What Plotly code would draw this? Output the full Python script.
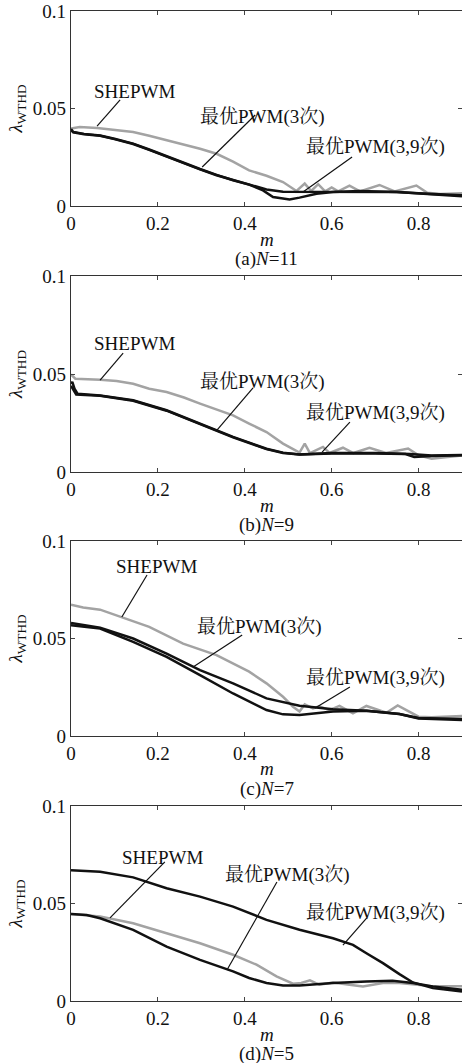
import plotly.graph_objects as go
from plotly.subplots import make_subplots

# ---------------- data ----------------
# panel (a) N=11
a_she_m = [0, 0.02, 0.06, 0.10, 0.143, 0.18, 0.22, 0.26, 0.297, 0.335, 0.373, 0.41, 0.45, 0.488, 0.519, 0.538, 0.553, 0.569, 0.585, 0.60, 0.615, 0.641, 0.665, 0.71, 0.745, 0.795, 0.82, 0.85, 0.9]
a_she_y = [0.0397, 0.0405, 0.040, 0.039, 0.038, 0.036, 0.0337, 0.0316, 0.0294, 0.0268, 0.0228, 0.0183, 0.0155, 0.0123, 0.0077, 0.0115, 0.0077, 0.0112, 0.0075, 0.0095, 0.0075, 0.0105, 0.0075, 0.0108, 0.0075, 0.0105, 0.0068, 0.0062, 0.0065]
a_3_m = [0, 0.005, 0.03, 0.067, 0.10, 0.143, 0.18, 0.22, 0.26, 0.297, 0.335, 0.373, 0.41, 0.442, 0.465, 0.503, 0.526, 0.565, 0.603, 0.665, 0.75, 0.82, 0.9]
a_3_y = [0.0395, 0.038, 0.037, 0.0362, 0.0345, 0.032, 0.029, 0.0255, 0.0222, 0.019, 0.016, 0.0132, 0.011, 0.008, 0.0046, 0.0034, 0.0043, 0.0063, 0.0072, 0.0077, 0.0072, 0.0062, 0.005]
a_39_m = [0, 0.005, 0.03, 0.067, 0.10, 0.143, 0.18, 0.22, 0.26, 0.297, 0.335, 0.373, 0.41, 0.45, 0.488, 0.55, 0.65, 0.75, 0.82, 0.9]
a_39_y = [0.039, 0.0378, 0.0368, 0.036, 0.0343, 0.0318, 0.0288, 0.0253, 0.022, 0.0188, 0.0158, 0.0133, 0.0112, 0.0085, 0.0073, 0.0072, 0.0072, 0.0072, 0.0063, 0.0055]

# panel (b) N=9
b_she_m = [0, 0.01, 0.067, 0.105, 0.143, 0.18, 0.22, 0.26, 0.297, 0.335, 0.373, 0.41, 0.45, 0.488, 0.519, 0.526, 0.538, 0.55, 0.58, 0.595, 0.626, 0.65, 0.687, 0.725, 0.776, 0.80, 0.83, 0.9]
b_she_y = [0.0498, 0.0476, 0.0471, 0.0464, 0.045, 0.0425, 0.0408, 0.038, 0.0349, 0.032, 0.0289, 0.0247, 0.0204, 0.0145, 0.0107, 0.0099, 0.0145, 0.0097, 0.0128, 0.0097, 0.0124, 0.0097, 0.0124, 0.0097, 0.012, 0.0085, 0.0068, 0.0085]
b_3_m = [0, 0.003, 0.008, 0.015, 0.067, 0.143, 0.22, 0.297, 0.373, 0.45, 0.488, 0.526, 0.60, 0.70, 0.78, 0.83, 0.9]
b_3_y = [0.045, 0.046, 0.0425, 0.040, 0.0391, 0.0366, 0.0315, 0.0247, 0.0179, 0.0119, 0.0099, 0.009, 0.0097, 0.0097, 0.0092, 0.0085, 0.0087]
b_39_m = [0, 0.005, 0.012, 0.067, 0.143, 0.22, 0.297, 0.373, 0.45, 0.488, 0.526, 0.60, 0.70, 0.77, 0.79, 0.83, 0.9]
b_39_y = [0.044, 0.042, 0.0395, 0.0389, 0.0364, 0.0313, 0.0245, 0.0177, 0.0117, 0.0097, 0.0089, 0.0095, 0.0095, 0.0092, 0.0077, 0.0082, 0.0086]

# panel (c) N=7
c_she_m = [0, 0.028, 0.067, 0.116, 0.18, 0.258, 0.335, 0.41, 0.45, 0.488, 0.511, 0.526, 0.538, 0.557, 0.572, 0.595, 0.618, 0.649, 0.68, 0.726, 0.752, 0.80, 0.83, 0.9]
c_she_y = [0.0674, 0.0659, 0.0648, 0.0611, 0.056, 0.0474, 0.0415, 0.033, 0.027, 0.0201, 0.015, 0.0125, 0.0162, 0.0142, 0.0152, 0.0133, 0.0154, 0.0116, 0.0154, 0.0119, 0.0157, 0.0099, 0.0096, 0.0102]
c_3_m = [0, 0.067, 0.143, 0.22, 0.297, 0.373, 0.45, 0.488, 0.526, 0.565, 0.603, 0.68, 0.756, 0.80, 0.9]
c_3_y = [0.0568, 0.0551, 0.0483, 0.0406, 0.0312, 0.0218, 0.0133, 0.0111, 0.0108, 0.0116, 0.0125, 0.013, 0.0113, 0.009, 0.0082]
c_39_m = [0, 0.067, 0.143, 0.22, 0.297, 0.373, 0.45, 0.488, 0.526, 0.603, 0.68, 0.756, 0.80, 0.9]
c_39_y = [0.058, 0.0556, 0.050, 0.0423, 0.0338, 0.027, 0.0193, 0.0172, 0.0155, 0.0137, 0.013, 0.0113, 0.0092, 0.0087]

# panel (d) N=5
d_she_m = [0, 0.067, 0.143, 0.22, 0.297, 0.373, 0.427, 0.473, 0.511, 0.53, 0.55, 0.572, 0.603, 0.641, 0.672, 0.718, 0.756, 0.833, 0.9]
d_she_y = [0.0446, 0.0433, 0.0399, 0.0348, 0.0296, 0.0237, 0.0186, 0.0126, 0.0089, 0.0092, 0.0106, 0.0083, 0.0095, 0.0083, 0.0075, 0.0092, 0.0092, 0.0075, 0.0075]
d_3_m = [0, 0.036, 0.067, 0.143, 0.22, 0.297, 0.373, 0.41, 0.45, 0.488, 0.526, 0.603, 0.68, 0.74, 0.787, 0.833, 0.9]
d_3_y = [0.0446, 0.0441, 0.0424, 0.0365, 0.0279, 0.0211, 0.0152, 0.0118, 0.0092, 0.008, 0.008, 0.0092, 0.01, 0.0104, 0.0092, 0.0075, 0.0058]
d_39_m = [0, 0.067, 0.143, 0.22, 0.297, 0.373, 0.45, 0.526, 0.603, 0.649, 0.68, 0.718, 0.756, 0.787, 0.833, 0.9]
d_39_y = [0.0671, 0.0663, 0.0634, 0.0578, 0.0535, 0.0484, 0.0416, 0.0365, 0.0322, 0.0288, 0.0245, 0.0194, 0.0138, 0.0095, 0.0066, 0.0049]

series_names = ["SHEPWM", "最优PWM(3次)", "最优PWM(3,9次)"]
captions = ["(a)<i>N</i>=11", "(b)<i>N</i>=9", "(c)<i>N</i>=7", "(d)<i>N</i>=5"]
x_ticks = [0, 0.2, 0.4, 0.6, 0.8]
x_ticklabels = ["0", "0.2", "0.4", "0.6", "0.8"]
y_ticks = [0, 0.05, 0.1]
y_ticklabels = ["0", "0.05", "0.1"]

panels = [
    [(a_she_m, a_she_y), (a_3_m, a_3_y), (a_39_m, a_39_y)],
    [(b_she_m, b_she_y), (b_3_m, b_3_y), (b_39_m, b_39_y)],
    [(c_she_m, c_she_y), (c_3_m, c_3_y), (c_39_m, c_39_y)],
    [(d_she_m, d_she_y), (d_3_m, d_3_y), (d_39_m, d_39_y)],
]

# label layout: per panel, per series: text center (x,y), leader from (x0,y0) to (x1,y1)
label_pos = [
    [(0.147, 0.0585, 0.113, 0.0544, 0.060, 0.041),
     (0.44, 0.0456, 0.424, 0.0467, 0.302, 0.020),
     (0.70, 0.0303, 0.647, 0.0251, 0.534, 0.0072)],
    [(0.147, 0.0658, 0.12, 0.0607, 0.067, 0.0469),
     (0.44, 0.0459, 0.419, 0.0429, 0.336, 0.0214),
     (0.70, 0.0301, 0.642, 0.0255, 0.578, 0.0102)],
    [(0.197, 0.0867, 0.175, 0.0826, 0.117, 0.061),
     (0.433, 0.0559, 0.394, 0.0518, 0.281, 0.0354),
     (0.70, 0.0297, 0.642, 0.0251, 0.562, 0.0144)],
    [(0.211, 0.0738, 0.216, 0.0713, 0.0898, 0.0426),
     (0.498, 0.0646, 0.474, 0.061, 0.359, 0.0159),
     (0.70, 0.0451, 0.681, 0.0426, 0.626, 0.0287)],
]

colors = ["#a3a3a3", "#111111", "#111111"]
domains = [[0.8030, 1.0], [0.5343, 0.7323], [0.2677, 0.4646], [0.0, 0.1970]]

FONT = "'Liberation Serif', 'Noto Serif CJK SC', 'Noto Sans CJK SC', serif"

fig = make_subplots(rows=4, cols=1)
for r, panel in enumerate(panels, start=1):
    for k, (mm, yy) in enumerate(panel):
        fig.add_trace(go.Scatter(x=mm, y=yy, mode="lines", name=series_names[k],
                                 line=dict(color=colors[k], width=2.5),
                                 showlegend=False), row=r, col=1)
    xa = "x" if r == 1 else f"x{r}"
    ya = "y" if r == 1 else f"y{r}"
    for k, (tx, ty, x0, y0, x1, y1) in enumerate(label_pos[r - 1]):
        fig.add_annotation(x=tx, y=ty, xref=xa, yref=ya, text=series_names[k], showarrow=False,
                           font=dict(family=FONT, size=19, color="#111"))
        fig.add_shape(type="line", x0=x0, y0=y0, x1=x1, y1=y1, xref=xa, yref=ya,
                      line=dict(color="#111", width=1.2))
    fig.add_annotation(x=0.5, y=0, xref=f"{xa} domain", yref=f"{ya} domain", yshift=-33,
                       text="<i>m</i>", showarrow=False, yanchor="middle",
                       font=dict(family=FONT, size=19, color="#111"))
    fig.add_annotation(x=0.5, y=0, xref=f"{xa} domain", yref=f"{ya} domain", yshift=-53,
                       text=captions[r - 1], showarrow=False, yanchor="middle",
                       font=dict(family=FONT, size=19, color="#111"))
    fig.add_annotation(x=0, y=0.5, xref="paper", yref=f"{ya} domain", xshift=-54,
                       text="<i>λ</i><sub>WTHD</sub>", showarrow=False, textangle=-90,
                       xanchor="center", yanchor="middle",
                       font=dict(family=FONT, size=19, color="#111"))
    fig.update_xaxes(row=r, col=1, range=[0, 0.9], tickvals=x_ticks, ticktext=x_ticklabels,
                     ticks="inside", ticklen=4, mirror="ticks", showline=True,
                     linecolor="#333", linewidth=1.3, showgrid=False, zeroline=False,
                     tickfont=dict(family=FONT, size=19, color="#111"))
    fig.update_yaxes(row=r, col=1, range=[0, 0.1], tickvals=y_ticks, ticktext=y_ticklabels,
                     ticks="inside", ticklen=4, mirror="ticks", showline=True,
                     linecolor="#333", linewidth=1.3, showgrid=False, zeroline=False,
                     domain=domains[r - 1],
                     tickfont=dict(family=FONT, size=19, color="#111"))

fig.update_layout(width=462, height=1063, margin=dict(l=71, r=0, t=11, b=62),
                  plot_bgcolor="white", paper_bgcolor="white",
                  font=dict(family=FONT))
fig.write_html("out.html")
